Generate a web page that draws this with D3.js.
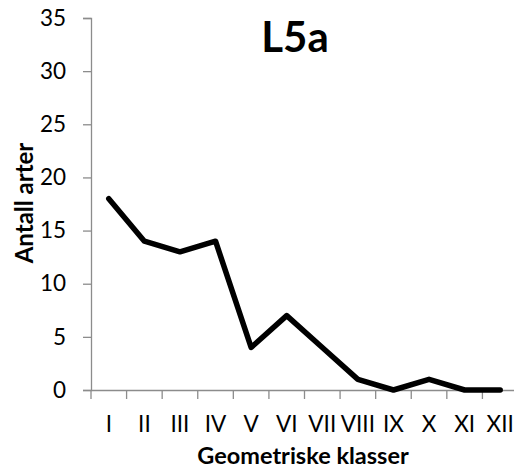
<!DOCTYPE html>
<html><head><meta charset="utf-8">
<script src="https://cdn.jsdelivr.net/npm/d3@7"></script>
<style>body{margin:0;background:#fff}svg{display:block}text{font-family:Lato,"Open Sans",sans-serif;fill:#000}</style>
</head><body>
<svg id="c" width="514" height="474"></svg>
<script>
const categories = ["I","II","III","IV","V","VI","VII","VIII","IX","X","XI","XII"];
const values = [18,14,13,14,4,7,4,1,0,1,0,0];
const yTicks = [0,5,10,15,20,25,30,35];
const title = "L5a";
const xTitle = "Geometriske klasser";
const yTitle = "Antall arter";

const svg = d3.select("#c");
const x0 = 91, plotRight = 518, y0 = 390, yTop = 18;
const x = d3.scaleBand().domain(categories).range([x0, plotRight]);
const y = d3.scaleLinear().domain([0,35]).range([y0, yTop]);
const axisColor = "#8c8c8c";

// y axis
const ya = svg.append("g").attr("transform", `translate(${x0},0)`)
  .call(d3.axisLeft(y).tickValues(yTicks).tickSize(8).tickPadding(17));
ya.select(".domain").attr("stroke", axisColor).attr("stroke-width", 1.3);
ya.selectAll(".tick line").attr("stroke", axisColor).attr("stroke-width", 1.3);
ya.selectAll(".tick text").attr("font-size", 22.5).attr("font-family", "Lato").attr("fill", "#000");

// x axis
const xa = svg.append("g").attr("transform", `translate(0,${y0})`)
  .call(d3.axisBottom(x).tickSize(0).tickPadding(26));
xa.select(".domain").attr("stroke", axisColor).attr("stroke-width", 1.3);
xa.selectAll(".tick text").attr("font-size", 22.5).attr("font-family", "Lato").attr("fill", "#000");
// tick marks at category boundaries
const bounds = categories.map(c => x(c));
xa.selectAll("line.b").data(bounds).enter().append("line").attr("class","b")
  .attr("x1", d => d).attr("x2", d => d).attr("y1", 0).attr("y2", 9)
  .attr("stroke", axisColor).attr("stroke-width", 1.3);

// line
const line = d3.line().x(d => x(d.c) + x.bandwidth()/2).y(d => y(d.v));
svg.append("path").datum(categories.map((c,i)=>({c, v: values[i]})))
  .attr("d", line).attr("fill","none").attr("stroke","#000")
  .attr("stroke-width", 5.5).attr("stroke-linejoin","round").attr("stroke-linecap","round");

// titles
svg.append("text").attr("x", 295).attr("y", 52).attr("text-anchor","middle")
  .attr("font-size", 42).attr("font-weight","bold").text(title);
svg.append("text").attr("x", 303).attr("y", 464).attr("text-anchor","middle")
  .attr("font-size", 23.5).attr("font-weight","bold").text(xTitle);
svg.append("text").attr("transform","translate(33,203) rotate(-90)").attr("text-anchor","middle")
  .attr("font-size", 24).attr("font-weight","bold").text(yTitle);
</script>
</body></html>
